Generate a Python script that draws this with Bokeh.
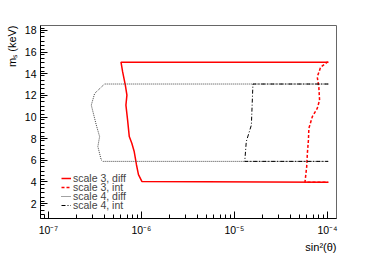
from bokeh.plotting import figure
from bokeh.models import Legend, LegendItem, FixedTicker, Range1d, Title
from bokeh.embed import file_html
from bokeh.resources import INLINE

# ---- data ----
s3_diff_x = [1.02e-4, 6.03e-7, 6.28e-7, 6.71e-7, 6.98e-7, 6.81e-7, 7.10e-7, 7.40e-7,
             7.88e-7, 8.36e-7, 8.84e-7, 9.29e-7, 1.01e-6, 1.02e-4]
s3_diff_y = [15.07, 15.07, 14.17, 12.94, 12.02, 11.1, 9.72, 8.19,
             7.58, 6.81, 5.59, 4.67, 4.05, 3.96]

s3_int_x = [1.02e-4, 9.93e-5, 8.43e-5, 7.76e-5, 8.07e-5, 8.22e-5, 7.76e-5, 6.87e-5,
            6.31e-5, 6.24e-5, 6.08e-5, 5.98e-5, 5.74e-5, 5.74e-5, 1.02e-4]
s3_int_y = [15.07, 15.07, 14.6, 13.7, 12.8, 11.56, 10.8, 10.03,
            8.96, 7.89, 6.66, 5.43, 4.05, 3.96, 3.96]

s4_diff_x = [1.02e-4, 4.01e-7, 3.14e-7, 2.89e-7, 3.27e-7, 3.55e-7, 3.40e-7, 3.69e-7, 3.85e-7, 1.02e-4]
s4_diff_y = [13.05, 13.05, 12.18, 11.1, 9.26, 8.19, 7.27, 6.05, 5.9, 5.9]

s4_int_x = [1.02e-4, 1.58e-5, 1.52e-5, 1.34e-5, 1.29e-5, 1.02e-4]
s4_int_y = [13.05, 13.05, 9.26, 7.73, 5.9, 5.9]

series_names = ["scale 3, diff", "scale 3, int", "scale 4, diff", "scale 4, int"]

x_ticks = [1e-7, 1e-6, 1e-5, 1e-4]
x_tick_labels = ["10\u207b\u2077", "10\u207b\u2076", "10\u207b\u2075", "10\u207b\u2074"]
y_ticks = [2, 4, 6, 8, 10, 12, 14, 16, 18]
x_title = "sin\u00b2(\u03b8)"
y_title = "m\u209b (keV)"

FONT = "Liberation Sans"
W, H = 374, 253

p = figure(width=W, height=H, x_axis_type="log",
           x_range=Range1d(8.22e-8, 1.25e-4), y_range=Range1d(0.62, 18.46),
           output_backend="svg", toolbar_location=None,
           min_border_left=37, min_border_right=38, min_border_top=25, min_border_bottom=34)
p.background_fill_color = "white"
p.border_fill_color = "white"
p.xgrid.visible = False
p.ygrid.visible = False
p.outline_line_color = "#666666"
p.outline_line_width = 1

minor_x = [m * 10.0 ** e for e in range(-8, -3) for m in range(2, 10)]
p.xaxis.ticker = FixedTicker(ticks=x_ticks, minor_ticks=minor_x)
p.xaxis.major_label_overrides = dict(zip(x_ticks, x_tick_labels))
p.yaxis.ticker = FixedTicker(ticks=y_ticks,
                             minor_ticks=[round(1.0 + 0.4 * i, 2) for i in range(0, 45)])

for ax in (p.xaxis, p.yaxis):
    ax.major_tick_in = 7
    ax.major_tick_out = 0
    ax.minor_tick_in = 4
    ax.minor_tick_out = 0
    ax.axis_line_color = "black"
    ax.major_tick_line_color = "black"
    ax.minor_tick_line_color = "black"
    ax.major_label_text_font = FONT
    ax.major_label_text_font_size = "10.5px"
    ax.major_label_text_color = "black"
p.xaxis.major_label_standoff = 5
p.yaxis.major_label_standoff = 4

# axis titles, right-aligned at the axis ends (ROOT style)
p.add_layout(Title(text=x_title, align="right", text_font=FONT, text_font_size="11px",
                   text_font_style="normal", text_color="black", standoff=1, offset=0),
             "below")
p.add_layout(Title(text=y_title, align="right", text_font=FONT, text_font_size="11px",
                   text_font_style="normal", text_color="black", standoff=7, offset=0),
             "left")

r1 = p.line(s3_diff_x, s3_diff_y, line_color="#ff0000", line_width=1.5)
r2 = p.line(s3_int_x, s3_int_y, line_color="#ff0000", line_width=1.5, line_dash="3 2")
r3 = p.line(s4_diff_x, s4_diff_y, line_color="#444444", line_width=1, line_dash="1 1")
r4 = p.line(s4_int_x, s4_int_y, line_color="black", line_width=1, line_dash="4 2 1 2")

renderers = [r1, r2, r3, r4]
row_y = [34, 25, 16, 7]
for name, r, yy in zip(series_names, renderers, row_y):
    leg = Legend(items=[LegendItem(label=name, renderers=[r])], location=(21, yy),
                 padding=0, margin=0, spacing=0, border_line_color=None,
                 background_fill_alpha=0, glyph_width=10, glyph_height=10,
                 label_height=10, label_standoff=2,
                 label_text_font=FONT, label_text_font_size="10.5px")
    p.add_layout(leg)

open("out.html", "w").write(file_html(p, INLINE))
